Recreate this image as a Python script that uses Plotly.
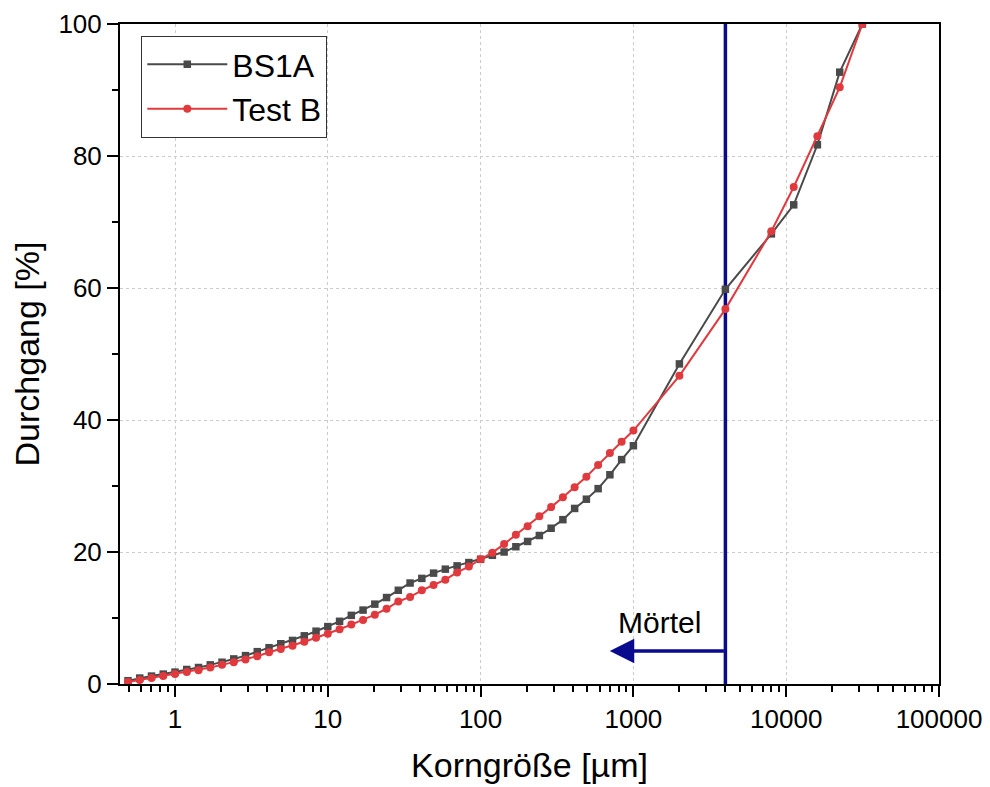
import math
import plotly.graph_objects as go

# Particle size (µm)
korngroesse = [0.4924, 0.5878, 0.7017, 0.8377, 1.0, 1.194, 1.425, 1.701, 2.031, 2.424,
               2.894, 3.455, 4.125, 4.924, 5.878, 7.017, 8.377, 10.0, 11.94, 14.25,
               17.01, 20.31, 24.24, 28.94, 34.55, 41.25, 49.24, 58.78, 70.17, 83.77,
               100.0, 119.4, 142.5, 170.1, 203.1, 242.4, 289.4, 345.5, 412.5, 492.4,
               587.8, 701.7, 837.7, 1000.0, 2000.0, 4000.0, 8000.0, 11200.0, 16000.0,
               22400.0, 31500.0]

bs1a = [0.5, 0.9, 1.2, 1.5, 1.8, 2.2, 2.5, 2.9, 3.3, 3.8,
        4.3, 4.9, 5.5, 6.1, 6.6, 7.3, 8.0, 8.7, 9.5, 10.4,
        11.2, 12.1, 13.1, 14.2, 15.3, 16.0, 16.8, 17.4, 17.9, 18.4,
        18.9, 19.5, 20.0, 20.8, 21.6, 22.5, 23.6, 24.9, 26.6, 28.0,
        29.6, 31.7, 34.0, 36.1, 48.5, 59.8, 68.2, 72.6, 81.7,
        92.7, 100.0]

test_b = [0.3, 0.6, 0.9, 1.2, 1.5, 1.8, 2.1, 2.5, 2.9, 3.3,
          3.7, 4.2, 4.8, 5.3, 5.8, 6.4, 7.0, 7.6, 8.3, 9.0,
          9.7, 10.5, 11.4, 12.5, 13.2, 14.2, 15.0, 15.8, 16.9, 17.8,
          18.9, 19.9, 21.2, 22.6, 23.9, 25.4, 26.8, 28.3, 29.8, 31.4,
          33.2, 35.0, 36.7, 38.4, 46.7, 56.8, 68.6, 75.3, 83.0,
          90.4, 100.0]

x_tickvals = [1, 10, 100, 1000, 10000, 100000]
x_ticktext = ["1", "10", "100", "1000", "10000", "100000"]
y_tickvals = [0, 20, 40, 60, 80, 100]

moertel_grenze = 4000
pfeil_ende = 700
pfeil_y = 5
label_x = 1480
label_y = 9.3

fig = go.Figure()

fig.add_trace(go.Scatter(
    x=[moertel_grenze, moertel_grenze], y=[0, 100], mode="lines",
    line=dict(color="#0a0a8f", width=3.5), showlegend=False, hoverinfo="skip"))

fig.add_trace(go.Scatter(
    x=korngroesse, y=bs1a, name="BS1A", mode="lines+markers",
    line=dict(color="#4a4a4a", width=2),
    marker=dict(symbol="square", size=7.5, color="#4a4a4a")))

fig.add_trace(go.Scatter(
    x=korngroesse, y=test_b, name="Test B", mode="lines+markers",
    line=dict(color="#e03a3e", width=2),
    marker=dict(symbol="circle", size=8, color="#e03a3e")))

fig.add_annotation(
    x=math.log10(pfeil_ende), y=pfeil_y, ax=math.log10(moertel_grenze), ay=pfeil_y,
    xref="x", yref="y", axref="x", ayref="y", text="", showarrow=True,
    arrowhead=2, arrowsize=1.4, arrowwidth=3.5, arrowcolor="#0a0a8f", standoff=0)

fig.add_annotation(
    x=math.log10(label_x), y=label_y, xref="x", yref="y", text="Mörtel",
    showarrow=False, font=dict(size=30, color="black"))

axis_font = dict(family="Liberation Sans, Arial, sans-serif", color="black")

fig.update_layout(
    width=990, height=787,
    margin=dict(l=112, r=59, t=16, b=111),
    paper_bgcolor="white", plot_bgcolor="white",
    font=dict(family="Liberation Sans, Arial, sans-serif", color="black"),
    legend=dict(x=0.026, y=0.982, xanchor="left", yanchor="top",
                bgcolor="white", bordercolor="#333333", borderwidth=1,
                font=dict(size=32), itemwidth=80, tracegroupgap=0),
    xaxis=dict(
        type="log", range=[-0.36, 5.0], automargin=False,
        tickvals=x_tickvals, ticktext=x_ticktext,
        ticks="outside", ticklen=11, tickwidth=1.5, tickcolor="black",
        tickfont=dict(size=26, **axis_font),
        minor=dict(ticks="outside", ticklen=6, tickwidth=1.5, tickcolor="black",
                   dtick="D1", showgrid=False),
        showline=True, linecolor="black", linewidth=2, mirror=True,
        showgrid=True, gridcolor="#cccccc", griddash="dot", gridwidth=1,
        zeroline=False,
        title=dict(text="Korngröße [µm]", font=dict(size=34, **axis_font), standoff=20),
    ),
    yaxis=dict(
        range=[0, 100], automargin=False, tickvals=y_tickvals,
        ticks="outside", ticklen=11, tickwidth=1.5, tickcolor="black",
        tickfont=dict(size=26, **axis_font),
        minor=dict(ticks="outside", ticklen=6, tickwidth=1.5, tickcolor="black",
                   dtick=10, showgrid=False),
        showline=True, linecolor="black", linewidth=2, mirror=True,
        showgrid=True, gridcolor="#cccccc", griddash="dot", gridwidth=1,
        zeroline=False,
        title=dict(text="Durchgang [%]", font=dict(size=34, **axis_font), standoff=12),
    ),
)

fig.write_html("out.html")
